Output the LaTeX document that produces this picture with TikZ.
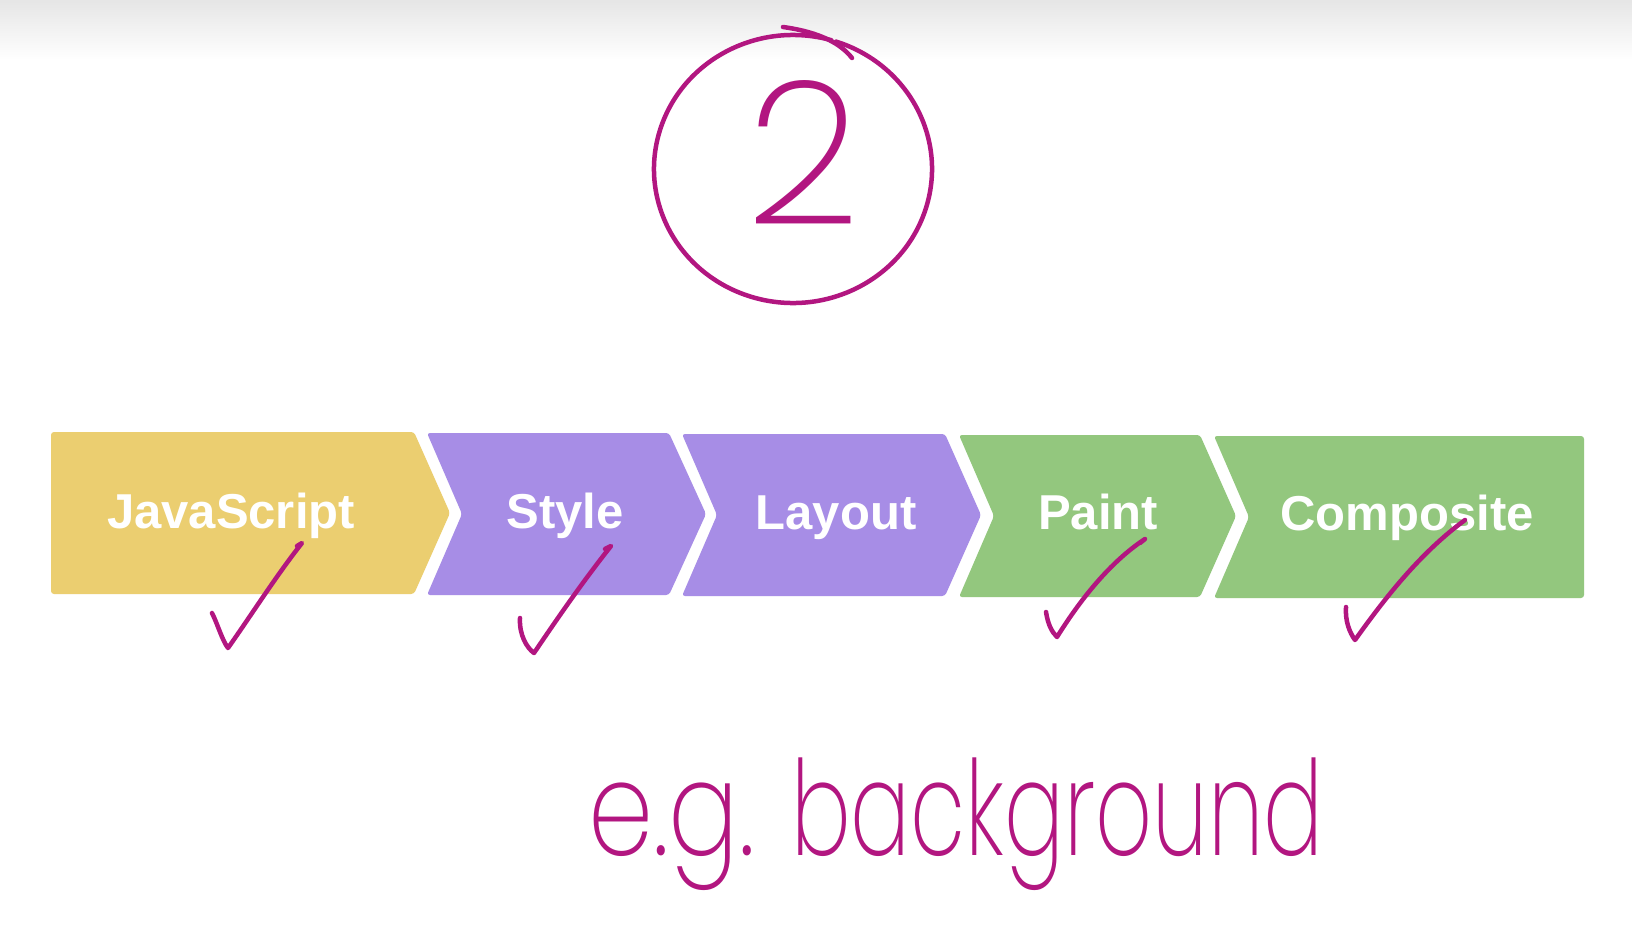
\documentclass[tikz,border=0pt]{standalone}
\usepackage{fontspec}
\newfontfamily\boxfont{Liberation Sans}
\IfFontExistsTF{Poppins ExtraLight}
  {\newfontfamily\handfont{Poppins ExtraLight}}
  {\newfontfamily\handfont{DejaVu Sans}[UprightFont=* ExtraLight]}
\IfFontExistsTF{Poppins Thin}
  {\newfontfamily\numfont{Poppins Thin}}
  {\let\numfont\handfont}
\definecolor{jsyellow}{RGB}{235,206,112}
\definecolor{stagepurple}{RGB}{167,141,230}
\definecolor{stagegreen}{RGB}{147,199,126}
\definecolor{pen}{RGB}{178,22,128}
\tikzset{
  stagebox/.style={rounded corners=3pt},
  stagelabel/.style={text=white, font=\boxfont\bfseries\fontsize{49}{49}\selectfont, anchor=base, inner sep=0pt},
  ink/.style={draw=pen, line width=4.5pt, line cap=round, line join=round},
  handtext/.style={text=pen, inner sep=0pt}
}
\begin{document}
\begin{tikzpicture}[x=1pt, y=-1pt]
  \useasboundingbox (0,0) rectangle (1632,950);
  \fill[white] (0,0) rectangle (1632,950);
  \shade[top color=black!10, bottom color=white] (0,0) rectangle (1632,60);

  % pipeline stages
  \fill[stagebox, jsyellow] (51,432) -- (414,432) -- (450,513) -- (414,594) -- (51,594) -- cycle;
  \fill[stagebox, stagepurple] (427,433) -- (669,433) -- (706,514) -- (669,595) -- (427,595) -- (462,514) -- cycle;
  \fill[stagebox, stagepurple] (682,434) -- (945,434) -- (981,515) -- (945,596) -- (682,596) -- (717,515) -- cycle;
  \fill[stagebox, stagegreen] (959,435) -- (1200,435) -- (1236,516) -- (1200,597) -- (959,597) -- (994,516) -- cycle;
  \fill[stagebox, stagegreen] (1214,436) -- (1584,436) -- (1584,598) -- (1214,598) -- (1249,517) -- cycle;

  \node[stagelabel] (js) at (231,528) {JavaScript};
  \node[stagelabel] (style) at (565,528) {Style};
  \node[stagelabel] (layout) at (836,529) {Layout};
  \node[stagelabel] (paint) at (1098,529) {Paint};
  \node[stagelabel] (composite) at (1407,530) {Composite};

  % circled step number
  \draw[ink] (783,27) .. controls (812,31) and (838,40) .. (852,58);
  \draw[ink] (793,169) ++(-72:139 and 134)
    arc[start angle=-72, end angle=286, x radius=139, y radius=134];
  \node[handtext, font=\handfont\fontsize{200}{200}\selectfont, anchor=base] (num) at (803,224) {2};

  % check marks
  \draw[ink] (212,613) .. controls (218,625) and (222,640) .. (228,648)
    .. controls (252,614) and (276,576) .. (302,543) -- (297,546);
  \draw[ink] (520,618) .. controls (519,635) and (527,648) .. (534,653)
    .. controls (559,616) and (584,580) .. (611,546) -- (605,549);
  \draw[ink] (1046,612) .. controls (1048,625) and (1052,632) .. (1057,637)
    .. controls (1080,600) and (1110,562) .. (1145,539) -- (1140,543);
  \draw[ink] (1346,607) .. controls (1345,622) and (1350,633) .. (1355,640)
    .. controls (1385,598) and (1420,553) .. (1465,520);

  % note
  \node[handtext, font=\handfont\fontsize{120}{120}\selectfont, anchor=base west,
        xscale=0.87, yscale=1.1] (eg) at (588,855) {e.g.};
  \node[handtext, font=\handfont\fontsize{120}{120}\selectfont, anchor=base west,
        xscale=0.74, yscale=1.1] (bg) at (791,855) {background};
\end{tikzpicture}
\end{document}
